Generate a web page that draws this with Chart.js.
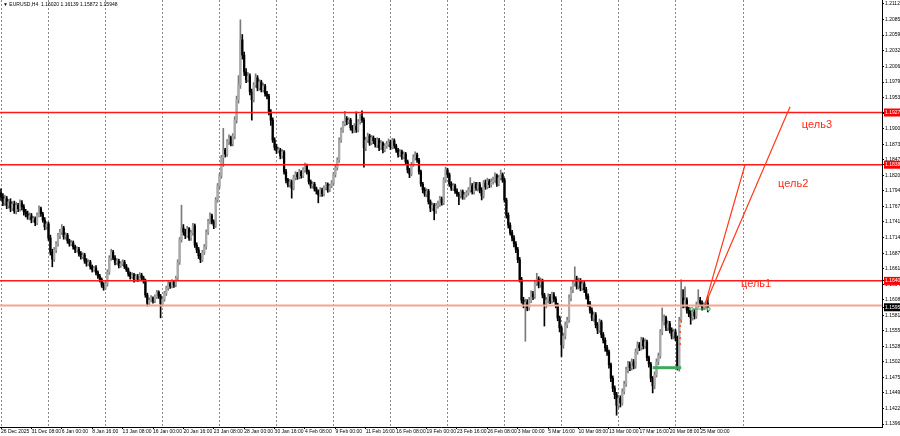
<!DOCTYPE html>
<html lang="ru">
<head>
<meta charset="UTF-8">
<title>EURUSD,H4</title>
<script src="https://cdn.jsdelivr.net/npm/chart.js"></script>
<style>
  html, body { margin: 0; padding: 0; background: #fff; }
  #wrap { width: 900px; height: 436px; }
</style>
</head>
<body>
<div id="wrap"><canvas id="chart" width="900" height="436"></canvas></div>
<script>
// H4 candles (open = previous close)
const firstOpen = 1.1790;
const closes = [
  1.1783, 1.1773, 1.1780, 1.1768, 1.1775, 1.1764, 1.1771, 1.1759, 1.1769, 1.1763, 1.1773, 1.1766, 1.1758,
  1.1754, 1.1749, 1.1751, 1.1744, 1.1746, 1.1739, 1.1752, 1.1763, 1.1754, 1.1744, 1.1732, 1.1737,
  1.1713, 1.1689, 1.1677, 1.1693, 1.1703, 1.1717, 1.1723, 1.1730, 1.1715, 1.1718, 1.1708, 1.1703, 1.1705, 1.1698, 1.1693, 1.1694, 1.1686,
  1.1681, 1.1684, 1.1674, 1.1669, 1.1672, 1.1664, 1.1659, 1.1662, 1.1654, 1.1648, 1.1642, 1.1633, 1.1628, 1.1635, 1.1655, 1.1679, 1.1689, 1.1679, 1.1671, 1.1674, 1.1666,
  1.1669, 1.1672, 1.1664, 1.1659, 1.1652, 1.1647, 1.1650, 1.1642, 1.1648, 1.1643, 1.1650, 1.1645, 1.1640, 1.1616, 1.1602, 1.1607, 1.1611, 1.1606, 1.1613, 1.1621, 1.1614, 1.1601, 1.1609, 1.1619, 1.1628, 1.1635, 1.1631, 1.1638, 1.1633, 1.1645, 1.1672,
  1.1710, 1.1730, 1.1723, 1.1717, 1.1729, 1.1713, 1.1722, 1.1734, 1.1701, 1.1693, 1.1683, 1.1676, 1.1689, 1.1698, 1.1723, 1.1741, 1.1751, 1.1741, 1.1734, 1.1778, 1.1802, 1.1819, 1.1850, 1.1863, 1.1856, 1.1877, 1.1884, 1.1874, 1.1887,
  1.1914, 1.1949, 1.1974, 1.2051, 1.2025, 1.1996, 1.1983, 1.1989, 1.1962, 1.1949, 1.1974, 1.1986, 1.1969, 1.1979, 1.1966, 1.1972, 1.1959, 1.1955, 1.1928, 1.1914, 1.1880, 1.1868, 1.1862, 1.1863, 1.1853, 1.1860,
  1.1826, 1.1812, 1.1804, 1.1809, 1.1798, 1.1816, 1.1822, 1.1817, 1.1826, 1.1819, 1.1829, 1.1836, 1.1826, 1.1809, 1.1802, 1.1805, 1.1797, 1.1793, 1.1787, 1.1795, 1.1788,
  1.1798, 1.1804, 1.1795, 1.1802, 1.1807, 1.1821, 1.1833, 1.1846, 1.1880, 1.1897, 1.1908, 1.1916, 1.1911, 1.1914, 1.1901, 1.1896, 1.1904, 1.1897, 1.1911, 1.1920, 1.1914,
  1.1867, 1.1880, 1.1887, 1.1875, 1.1884, 1.1879, 1.1872, 1.1880, 1.1867, 1.1875, 1.1863, 1.1870, 1.1873, 1.1877, 1.1868, 1.1879, 1.1870, 1.1863, 1.1855, 1.1860, 1.1851,
  1.1856, 1.1843, 1.1829, 1.1822, 1.1838, 1.1850, 1.1855, 1.1846, 1.1826, 1.1805, 1.1795, 1.1788, 1.1793, 1.1775, 1.1764, 1.1769, 1.1759, 1.1768, 1.1771, 1.1780, 1.1773,
  1.1812, 1.1829, 1.1821, 1.1805, 1.1798, 1.1802, 1.1793, 1.1788, 1.1785, 1.1792, 1.1783, 1.1787, 1.1790, 1.1795, 1.1802, 1.1792, 1.1805, 1.1798, 1.1804,
  1.1795, 1.1785, 1.1807, 1.1800, 1.1810, 1.1804, 1.1809, 1.1812, 1.1819, 1.1805, 1.1816, 1.1821, 1.1812, 1.1778, 1.1752, 1.1735, 1.1722, 1.1713, 1.1703, 1.1693, 1.1676,
  1.1642, 1.1607, 1.1599, 1.1604, 1.1594, 1.1607, 1.1618, 1.1613, 1.1636, 1.1643, 1.1633, 1.1640, 1.1616, 1.1599, 1.1607, 1.1613, 1.1606, 1.1616, 1.1609, 1.1599,
  1.1577, 1.1560, 1.1531, 1.1546, 1.1565, 1.1573, 1.1611, 1.1625, 1.1636, 1.1643, 1.1631, 1.1640, 1.1628, 1.1635, 1.1625, 1.1614, 1.1601, 1.1590, 1.1577, 1.1582,
  1.1565, 1.1556, 1.1570, 1.1548, 1.1539, 1.1526, 1.1519, 1.1497, 1.1474, 1.1457, 1.1446, 1.1428, 1.1440, 1.1432, 1.1451, 1.1464, 1.1488, 1.1498, 1.1492, 1.1502,
  1.1495, 1.1519, 1.1531, 1.1526, 1.1539, 1.1529, 1.1536, 1.1509, 1.1498, 1.1474, 1.1461, 1.1480, 1.1502, 1.1512, 1.1553, 1.1570, 1.1577, 1.1560, 1.1567, 1.1556,
  1.1546, 1.1553, 1.1543, 1.1492, 1.1573, 1.1611, 1.1599, 1.1607, 1.1590, 1.1584, 1.1577, 1.1587, 1.1580, 1.1599, 1.1607, 1.1602, 1.1595, 1.1599, 1.1602, 1.1595
];
const highs = [
  1.1797, 1.1789, 1.1786, 1.1784, 1.1779, 1.1780, 1.1775, 1.1776, 1.1774, 1.1772, 1.1778, 1.1777, 1.1770,
  1.1762, 1.1759, 1.1756, 1.1755, 1.1750, 1.1749, 1.1756, 1.1768, 1.1766, 1.1757, 1.1748, 1.1741,
  1.1740, 1.1718, 1.1694, 1.1697, 1.1707, 1.1721, 1.1728, 1.1736, 1.1733, 1.1722, 1.1721, 1.1711, 1.1709, 1.1708, 1.1701, 1.1698, 1.1697,
  1.1690, 1.1688, 1.1687, 1.1678, 1.1676, 1.1675, 1.1667, 1.1665, 1.1666, 1.1657, 1.1651, 1.1645, 1.1637, 1.1639, 1.1659, 1.1683, 1.1694, 1.1692, 1.1683, 1.1678, 1.1677,
  1.1673, 1.1676, 1.1675, 1.1668, 1.1662, 1.1655, 1.1654, 1.1653, 1.1651, 1.1651, 1.1654, 1.1653, 1.1648, 1.1643, 1.1619, 1.1611, 1.1615, 1.1613, 1.1616, 1.1624, 1.1623, 1.1617, 1.1612, 1.1622, 1.1631, 1.1639, 1.1638, 1.1642, 1.1641, 1.1648, 1.1676,
  1.1714, 1.1769, 1.1736, 1.1728, 1.1733, 1.1731, 1.1726, 1.1738, 1.1737, 1.1705, 1.1697, 1.1687, 1.1692, 1.1702, 1.1727, 1.1745, 1.1756, 1.1754, 1.1744, 1.1782, 1.1806, 1.1823, 1.1854, 1.1900, 1.1866, 1.1881, 1.1889, 1.1887, 1.1891,
  1.1920, 1.1955, 1.1990, 1.2085, 1.2060, 1.2030, 1.2002, 1.1995, 1.1993, 1.1967, 1.1978, 1.1993, 1.1990, 1.1983, 1.1982, 1.1977, 1.1975, 1.1963, 1.1958, 1.1932, 1.1918, 1.1884, 1.1873, 1.1868, 1.1866, 1.1864,
  1.1862, 1.1830, 1.1815, 1.1813, 1.1812, 1.1820, 1.1826, 1.1825, 1.1830, 1.1828, 1.1833, 1.1841, 1.1839, 1.1829, 1.1812, 1.1809, 1.1808, 1.1800, 1.1795, 1.1799, 1.1798,
  1.1802, 1.1808, 1.1807, 1.1805, 1.1811, 1.1825, 1.1837, 1.1850, 1.1884, 1.1901, 1.1912, 1.1929, 1.1920, 1.1918, 1.1917, 1.1905, 1.1908, 1.1928, 1.1915, 1.1924, 1.1930,
  1.1918, 1.1885, 1.1892, 1.1890, 1.1888, 1.1887, 1.1883, 1.1884, 1.1883, 1.1879, 1.1877, 1.1874, 1.1878, 1.1882, 1.1880, 1.1883, 1.1882, 1.1873, 1.1866, 1.1864, 1.1863,
  1.1860, 1.1859, 1.1846, 1.1832, 1.1842, 1.1855, 1.1860, 1.1858, 1.1849, 1.1829, 1.1808, 1.1799, 1.1797, 1.1796, 1.1778, 1.1773, 1.1772, 1.1772, 1.1776, 1.1784, 1.1783,
  1.1816, 1.1834, 1.1832, 1.1824, 1.1809, 1.1806, 1.1805, 1.1797, 1.1791, 1.1795, 1.1795, 1.1791, 1.1794, 1.1799, 1.1816, 1.1806, 1.1809, 1.1808, 1.1808,
  1.1808, 1.1799, 1.1811, 1.1812, 1.1815, 1.1813, 1.1814, 1.1817, 1.1824, 1.1822, 1.1820, 1.1829, 1.1824, 1.1815, 1.1781, 1.1756, 1.1739, 1.1726, 1.1717, 1.1707, 1.1697,
  1.1680, 1.1646, 1.1612, 1.1609, 1.1608, 1.1612, 1.1623, 1.1622, 1.1641, 1.1653, 1.1647, 1.1645, 1.1643, 1.1619, 1.1612, 1.1618, 1.1617, 1.1621, 1.1620, 1.1613,
  1.1602, 1.1580, 1.1563, 1.1551, 1.1570, 1.1578, 1.1616, 1.1630, 1.1641, 1.1664, 1.1648, 1.1645, 1.1644, 1.1640, 1.1639, 1.1629, 1.1618, 1.1605, 1.1594, 1.1587,
  1.1586, 1.1569, 1.1575, 1.1573, 1.1552, 1.1543, 1.1530, 1.1522, 1.1500, 1.1478, 1.1461, 1.1450, 1.1445, 1.1444, 1.1456, 1.1469, 1.1493, 1.1503, 1.1502, 1.1507,
  1.1506, 1.1524, 1.1536, 1.1535, 1.1544, 1.1543, 1.1541, 1.1539, 1.1512, 1.1501, 1.1477, 1.1485, 1.1507, 1.1517, 1.1557, 1.1594, 1.1582, 1.1580, 1.1572, 1.1571,
  1.1560, 1.1558, 1.1557, 1.1546, 1.1578, 1.1642, 1.1625, 1.1630, 1.1611, 1.1595, 1.1590, 1.1592, 1.1591, 1.1604, 1.1625, 1.1612, 1.1606, 1.1603, 1.1606, 1.1614
];
const lows = [
  1.1777, 1.1768, 1.1769, 1.1763, 1.1764, 1.1758, 1.1760, 1.1755, 1.1754, 1.1758, 1.1759, 1.1761, 1.1752,
  1.1749, 1.1745, 1.1744, 1.1739, 1.1740, 1.1734, 1.1736, 1.1749, 1.1750, 1.1740, 1.1727, 1.1728,
  1.1709, 1.1684, 1.1664, 1.1673, 1.1688, 1.1699, 1.1712, 1.1719, 1.1711, 1.1711, 1.1704, 1.1699, 1.1700, 1.1694, 1.1688, 1.1689, 1.1682,
  1.1677, 1.1678, 1.1670, 1.1665, 1.1666, 1.1660, 1.1655, 1.1656, 1.1650, 1.1644, 1.1638, 1.1629, 1.1624, 1.1625, 1.1631, 1.1651, 1.1675, 1.1676, 1.1667, 1.1668, 1.1662,
  1.1663, 1.1666, 1.1661, 1.1656, 1.1648, 1.1643, 1.1644, 1.1638, 1.1639, 1.1639, 1.1640, 1.1641, 1.1636, 1.1612, 1.1597, 1.1598, 1.1604, 1.1602, 1.1603, 1.1610, 1.1610, 1.1577, 1.1597, 1.1605, 1.1615, 1.1624, 1.1627, 1.1628, 1.1629, 1.1630, 1.1641,
  1.1668, 1.1706, 1.1718, 1.1712, 1.1714, 1.1709, 1.1709, 1.1718, 1.1697, 1.1688, 1.1678, 1.1671, 1.1673, 1.1685, 1.1694, 1.1719, 1.1737, 1.1737, 1.1729, 1.1731, 1.1774, 1.1798, 1.1815, 1.1835, 1.1851, 1.1852, 1.1872, 1.1870, 1.1870,
  1.1882, 1.1909, 1.1943, 1.1968, 1.2018, 1.1990, 1.1978, 1.1979, 1.1957, 1.1914, 1.1945, 1.1970, 1.1964, 1.1965, 1.1962, 1.1962, 1.1955, 1.1950, 1.1923, 1.1905, 1.1876, 1.1863, 1.1857, 1.1858, 1.1848, 1.1849,
  1.1822, 1.1807, 1.1800, 1.1800, 1.1781, 1.1795, 1.1812, 1.1813, 1.1814, 1.1815, 1.1816, 1.1825, 1.1822, 1.1805, 1.1798, 1.1798, 1.1793, 1.1788, 1.1773, 1.1784, 1.1784,
  1.1785, 1.1795, 1.1791, 1.1792, 1.1799, 1.1803, 1.1817, 1.1829, 1.1842, 1.1876, 1.1893, 1.1904, 1.1906, 1.1908, 1.1897, 1.1892, 1.1893, 1.1893, 1.1894, 1.1907, 1.1910,
  1.1834, 1.1862, 1.1876, 1.1871, 1.1872, 1.1874, 1.1868, 1.1867, 1.1862, 1.1864, 1.1858, 1.1860, 1.1866, 1.1869, 1.1864, 1.1865, 1.1866, 1.1859, 1.1851, 1.1852, 1.1847,
  1.1848, 1.1839, 1.1824, 1.1816, 1.1819, 1.1835, 1.1846, 1.1842, 1.1822, 1.1801, 1.1790, 1.1784, 1.1783, 1.1771, 1.1758, 1.1760, 1.1744, 1.1755, 1.1764, 1.1767, 1.1769,
  1.1770, 1.1808, 1.1816, 1.1801, 1.1794, 1.1794, 1.1789, 1.1784, 1.1770, 1.1781, 1.1779, 1.1779, 1.1783, 1.1786, 1.1791, 1.1788, 1.1788, 1.1794, 1.1793,
  1.1790, 1.1778, 1.1781, 1.1796, 1.1797, 1.1799, 1.1800, 1.1805, 1.1808, 1.1801, 1.1802, 1.1812, 1.1808, 1.1774, 1.1747, 1.1730, 1.1718, 1.1708, 1.1698, 1.1688, 1.1671,
  1.1638, 1.1602, 1.1594, 1.1537, 1.1589, 1.1590, 1.1603, 1.1608, 1.1610, 1.1632, 1.1628, 1.1629, 1.1611, 1.1563, 1.1594, 1.1602, 1.1601, 1.1602, 1.1604, 1.1594,
  1.1572, 1.1553, 1.1511, 1.1525, 1.1541, 1.1560, 1.1569, 1.1606, 1.1620, 1.1631, 1.1626, 1.1626, 1.1623, 1.1624, 1.1620, 1.1609, 1.1596, 1.1585, 1.1572, 1.1571,
  1.1560, 1.1550, 1.1552, 1.1543, 1.1534, 1.1520, 1.1513, 1.1491, 1.1468, 1.1451, 1.1439, 1.1411, 1.1423, 1.1425, 1.1428, 1.1447, 1.1460, 1.1483, 1.1487, 1.1488,
  1.1490, 1.1491, 1.1515, 1.1521, 1.1522, 1.1524, 1.1525, 1.1504, 1.1493, 1.1468, 1.1449, 1.1456, 1.1476, 1.1497, 1.1508, 1.1548, 1.1565, 1.1555, 1.1555, 1.1551,
  1.1541, 1.1541, 1.1538, 1.1488, 1.1486, 1.1569, 1.1594, 1.1594, 1.1585, 1.1579, 1.1566, 1.1573, 1.1575, 1.1576, 1.1595, 1.1597, 1.1590, 1.1591, 1.1594, 1.1587
];

// time axis: one label every 16 H4 bars
const timeLabels = ['26 Dec 2025', '31 Dec 08:00', '6 Jan 00:00', '8 Jan 16:00', '13 Jan 08:00', '16 Jan 00:00',
  '20 Jan 16:00', '23 Jan 08:00', '28 Jan 00:00', '30 Jan 16:00', '4 Feb 08:00', '9 Feb 00:00', '11 Feb 16:00',
  '16 Feb 08:00', '19 Feb 00:00', '23 Feb 16:00', '26 Feb 08:00', '3 Mar 00:00', '5 Mar 16:00', '10 Mar 08:00',
  '13 Mar 00:00', '17 Mar 16:00', '20 Mar 08:00', '25 Mar 00:00'];
const weekGridBars = [0, 25, 55, 85, 115, 145, 175, 205, 235, 265, 295, 325, 355, 391];

const priceLabels = ['1.2112', '1.2085', '1.2059', '1.2032', '1.2006', '1.1979', '1.1953', '1.1926', '1.1900',
  '1.1873', '1.1847', '1.1820', '1.1794', '1.1767', '1.1741', '1.1714', '1.1687', '1.1661', '1.1634', '1.1608',
  '1.1581', '1.1555', '1.1528', '1.1502', '1.1475', '1.1449', '1.1422', '1.1396'];

// drawn objects
const targetLevels = [1.1927, 1.1838, 1.1640];
const entryLevel = 1.1598;
const bidPrice = 1.1595;
const greenLevel = 1.1492;
const targetLabels = ['цель1', 'цель2', 'цель3'];
const targetAnchors = [[389.5, 1.1635], [409, 1.1805], [421.5, 1.1906]];
const header = '▼ EURUSD,H4  1.16020 1.16139 1.15872 1.15948';

const X_MIN = -0.53, X_MAX = 463.7;
const Y_MIN = 1.13909, Y_MAX = 1.21188;

const opens = closes.map((c, i) => i === 0 ? firstOpen : closes[i - 1]);
const up = closes.map((c, i) => c >= opens[i]);
const bodyColors = up.map(u => u ? '#a9a9a9' : '#000000');
const wickColors = up.map(u => u ? '#7a7a7a' : '#000000');
const wickData = closes.map((c, i) => ({ x: i, y: [Math.min(lows[i], opens[i], c), Math.max(highs[i], opens[i], c)] }));
const bodyData = closes.map((c, i) => ({ x: i, y: [opens[i], c] }));

function lineSet(points, color, width, extra) {
    return Object.assign({
        type: 'line', data: points, borderColor: color, borderWidth: width,
        pointRadius: 0, pointHoverRadius: 0, fill: false, tension: 0, order: 2
    }, extra || {});
}

const datasets = [
    { type: 'bar', data: wickData, backgroundColor: wickColors, barThickness: 1, grouped: false, order: 6 },
    { type: 'bar', data: bodyData, backgroundColor: bodyColors, barThickness: 1.6, minBarLength: 1, grouped: false, order: 5 }
];
targetLevels.forEach(p => {
    datasets.push(lineSet([{ x: X_MIN, y: p }, { x: X_MAX, y: p }], '#ff1a1a', 1.5, { order: 3 }));
});
datasets.push(lineSet([{ x: X_MIN, y: entryLevel }, { x: X_MAX, y: entryLevel }], '#f7a48c', 2, { order: 3 }));
datasets.push(lineSet([{ x: 343, y: greenLevel }, { x: 358, y: greenLevel }], '#3daa5c', 3));
datasets.push(lineSet([{ x: 363.5, y: 1.1592 }, { x: 372.5, y: 1.1592 }], '#3daa5c', 1,
    { pointRadius: 1.8, pointStyle: 'rect', pointBackgroundColor: '#fff', pointBorderColor: '#3daa5c', pointBorderWidth: 1 }));
datasets.push(lineSet([{ x: 357.4, y: 1.1575 }, { x: 357.4, y: 1.1530 }], '#ff5a36', 2, { borderDash: [2, 4] }));
datasets.push(lineSet([{ x: 370.5, y: 1.1599 }, { x: 391.6, y: 1.1838 }], '#ff3a1a', 1.2, { order: 1 }));
datasets.push(lineSet([{ x: 370.5, y: 1.1599 }, { x: 415.3, y: 1.1937 }], '#ff3a1a', 1.2, { order: 1 }));

const axisFont = { family: 'Liberation Sans, DejaVu Sans, sans-serif', size: 5 };
const isMarked = v => targetLevels.includes(v) || v === bidPrice;

const textPlugin = {
    id: 'texts',
    afterDraw(chart) {
        const { ctx, scales } = chart;
        ctx.save();
        ctx.fillStyle = '#ff2a1a';
        ctx.font = '11px "Liberation Sans", Arial, sans-serif';
        ctx.textBaseline = 'middle';
        ctx.textAlign = 'left';
        targetLabels.forEach((t, i) => {
            ctx.fillText(t, scales.x.getPixelForValue(targetAnchors[i][0]), scales.y.getPixelForValue(targetAnchors[i][1]));
        });
        ctx.fillStyle = '#000';
        ctx.font = '5px "Liberation Sans", "DejaVu Sans", sans-serif';
        ctx.textBaseline = 'top';
        ctx.fillText(header, 3, 2);
        ctx.restore();
    }
};

new Chart(document.getElementById('chart'), {
    type: 'bar',
    data: { datasets },
    plugins: [textPlugin],
    options: {
        responsive: false,
        animation: false,
        events: [],
        layout: { padding: 0, autoPadding: false },
        plugins: { legend: { display: false }, tooltip: { enabled: false }, title: { display: false } },
        scales: {
            x: {
                type: 'linear', min: X_MIN, max: X_MAX, offset: false,
                afterBuildTicks: s => { s.ticks = timeLabels.map((t, i) => ({ value: i * 16 })); },
                afterFit: s => { s.height = 9; s.paddingLeft = 0; s.paddingRight = 0; },
                ticks: {
                    autoSkip: false, maxRotation: 0, minRotation: 0, align: 'start', padding: 0,
                    font: axisFont, color: '#000', callback: (v, i) => timeLabels[i]
                },
                grid: { drawOnChartArea: false, drawTicks: true, tickLength: 2, color: '#000', offset: false },
                border: { display: true, color: '#000' }
            },
            xg: {
                type: 'linear', position: 'top', min: X_MIN, max: X_MAX, offset: false,
                afterBuildTicks: s => { s.ticks = weekGridBars.map(v => ({ value: v })); },
                afterFit: s => { s.height = 0; s.paddingLeft = 0; s.paddingRight = 0; },
                ticks: { display: false },
                grid: { drawOnChartArea: true, drawTicks: false, color: '#8a8a8a', lineWidth: 1, offset: false },
                border: { display: false, dash: [2, 2] }
            },
            y: {
                type: 'linear', position: 'right', min: Y_MIN, max: Y_MAX,
                afterBuildTicks: s => {
                    s.ticks = priceLabels.map(Number).concat(targetLevels, [bidPrice]).map(v => ({ value: v }));
                },
                afterFit: s => { s.width = 18; s.paddingTop = 0; s.paddingBottom = 0; },
                ticks: {
                    autoSkip: false, padding: 1, font: axisFont,
                    callback: v => v.toFixed(4),
                    color: c => (c.tick && isMarked(c.tick.value)) ? '#fff' : '#000',
                    showLabelBackdrop: c => !!(c.tick && isMarked(c.tick.value)),
                    backdropColor: c => (c.tick && c.tick.value === bidPrice) ? '#000' : '#ff0000',
                    backdropPadding: { top: 1, bottom: 1, left: 1, right: 3 }
                },
                grid: { drawOnChartArea: false, drawTicks: true, tickLength: 2, color: '#000' },
                border: { display: true, color: '#000' }
            }
        }
    }
});
</script>
</body>
</html>
